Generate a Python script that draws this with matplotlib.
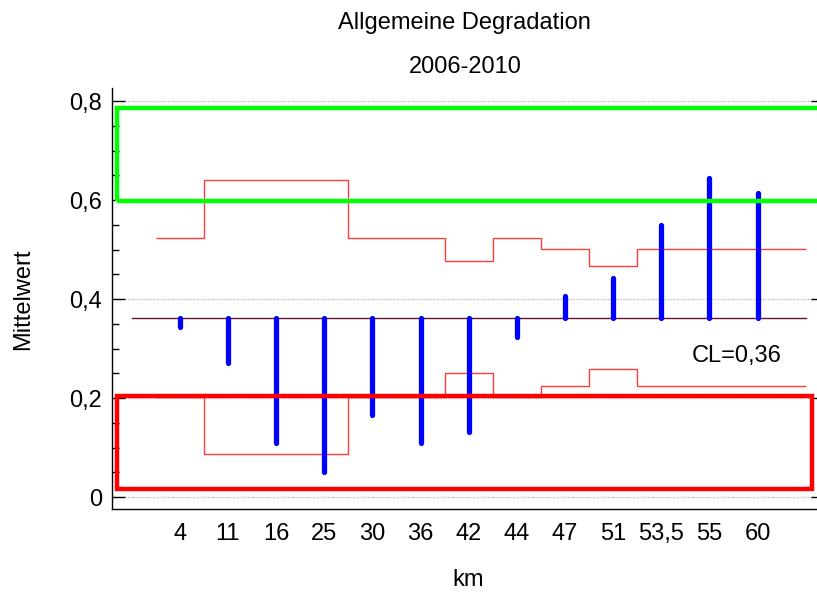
import numpy as np
import matplotlib
matplotlib.use("Agg")
import matplotlib.pyplot as plt
from matplotlib.patches import Rectangle
from matplotlib.ticker import MultipleLocator, FuncFormatter

plt.rcParams["font.family"] = ["Liberation Sans", "DejaVu Sans"]

km_labels = ["4", "11", "16", "25", "30", "36", "42", "44", "47", "51", "53,5", "55", "60"]
group_means = [0.343, 0.270, 0.110, 0.050, 0.166, 0.110, 0.131, 0.324,
               0.406, 0.442, 0.550, 0.645, 0.615]
center_line = 0.362
upper_limits = [0.524, 0.640, 0.640, 0.640, 0.524, 0.524, 0.477, 0.524,
                0.502, 0.467, 0.502, 0.502, 0.502]
lower_limits = [0.203, 0.087, 0.087, 0.087, 0.203, 0.203, 0.251, 0.203,
                0.225, 0.258, 0.225, 0.225, 0.225]
good_zone = (0.598, 0.786)
bad_zone = (0.016, 0.204)

n = len(km_labels)
x = np.arange(n)

fig = plt.figure(figsize=(8.17, 6.0), dpi=100)
ax = fig.add_axes([0.137, 0.151, 0.8715, 0.702])
ax.set_xlim(-1.41, 13.38)
ax.set_ylim(-0.025, 0.826)

# grid lines at major ticks
for yv in [0, 0.2, 0.4, 0.6, 0.8]:
    ax.axhline(yv, xmin=0.018, xmax=0.983, color="#b8b8b8", lw=0.9, ls=(0, (1, 1)), zorder=1)

# decision limits
edges = np.arange(n + 1) - 0.5
edges[-1] = n
ax.stairs(upper_limits, edges, baseline=None, color="#ff3c3c", lw=1.0, zorder=2)
ax.stairs(lower_limits, edges, baseline=None, color="#ff3c3c", lw=1.0, zorder=2)

# center line
ax.plot([-1, n], [center_line, center_line], color="#6a1030", lw=1.0, zorder=3)

# group means as vertical bars from the center line
ax.vlines(x, center_line, group_means, color="#0000ff", lw=3.8, capstyle="round", zorder=4)

ax.text(10.63, 0.273, "CL=0,36", fontsize=17, ha="left", va="baseline")

# target zones
ax.add_patch(Rectangle((-1.30, good_zone[0]), 16, good_zone[1] - good_zone[0],
                       fill=False, ec="#00ff00", lw=3.2, zorder=5))
ax.add_patch(Rectangle((-1.30, bad_zone[0]), 14.43, bad_zone[1] - bad_zone[0],
                       fill=False, ec="#ff0000", lw=3.2, zorder=5))

ax.set_xticks(x)
ax.set_xticklabels(km_labels)
ax.tick_params(axis="x", length=0, pad=10, labelsize=17)

ax.yaxis.set_major_locator(MultipleLocator(0.2))
ax.yaxis.set_minor_locator(MultipleLocator(0.05))
ax.yaxis.set_major_formatter(FuncFormatter(lambda v, p: ("%g" % round(v, 2)).replace(".", ",")))
ax.tick_params(axis="y", which="major", direction="in", length=9.5, width=1.0,
               labelsize=17, pad=7, right=True)
ax.tick_params(axis="y", which="minor", direction="in", length=5, width=1.0)

ax.spines["top"].set_visible(False)
ax.spines["right"].set_visible(False)
ax.spines["left"].set_linewidth(1.0)
ax.spines["bottom"].set_linewidth(1.0)

ax.set_ylabel("Mittelwert", fontsize=17, labelpad=25)
ax.set_xlabel("km", fontsize=17, labelpad=17)

fig.text(0.569, 0.952, "Allgemeine Degradation", fontsize=17, ha="center", va="baseline")
fig.text(0.569, 0.878, "2006-2010", fontsize=17, ha="center", va="baseline")

fig.savefig("out.png", dpi=100)
